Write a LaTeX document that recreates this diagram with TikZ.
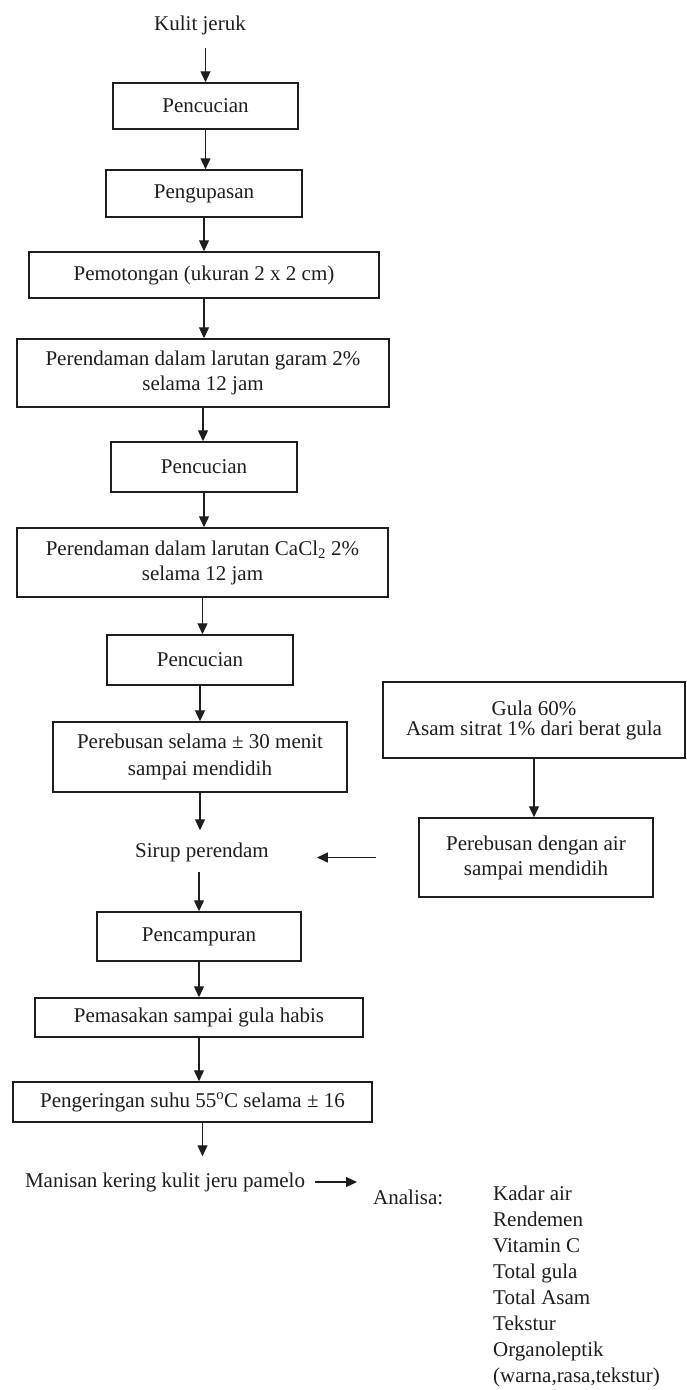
\documentclass[tikz,border=0pt]{standalone}
\usepackage{fontspec}
\setmainfont{Liberation Serif}
\usetikzlibrary{arrows.meta}
\definecolor{ink}{HTML}{1E1E1E}
\tikzset{
  box/.style={draw=ink, line width=1.5pt, inner sep=0pt, align=center, text=ink,
              font=\fontsize{21}{25}\selectfont},
  plain/.style={inner sep=0pt, align=left, text=ink, font=\fontsize{21}{26}\selectfont},
  arr/.style={draw=ink, line width=1.3pt, -{Triangle[length=11pt,width=10pt]}}
}
\begin{document}
\begin{tikzpicture}[x=1pt,y=-1pt]
\useasboundingbox (0,0) rectangle (687,1390);
\fill[white] (0,0) rectangle (687,1390);

\node[plain] (kulit) at (200,25) {Kulit jeruk};
\node[box, minimum width=185pt, minimum height=46pt] (b1) at (205.5,106) {Pencucian};
\node[box, minimum width=196pt, minimum height=47pt] (b2) at (204,193.5) {Pengupasan};
\node[box, minimum width=350pt, minimum height=46pt] (b3) at (204,275) {Pemotongan (ukuran 2 x 2 cm)};
\node[box, minimum width=372pt, minimum height=68pt] (b4) at (203,373) {Perendaman dalam larutan garam 2\%\\selama 12 jam};
\node[box, minimum width=186pt, minimum height=50pt] (b5) at (204,467) {Pencucian};
\node[box, minimum width=371pt, minimum height=69pt] (b6) at (202.5,562.5) {Perendaman dalam larutan CaCl\textsubscript{2} 2\%\\selama 12 jam};
\node[box, minimum width=186pt, minimum height=50pt] (b7) at (200,660) {Pencucian};
\node[box, minimum width=294pt, minimum height=70pt, font=\fontsize{21}{27}\selectfont] (b8) at (200,757) {Perebusan selama ± 30 menit\\sampai mendidih};
\node[box, minimum width=302pt, minimum height=76pt, font=\fontsize{21}{20}\selectfont] (gula) at (534,720) {Gula 60\%\\Asam sitrat 1\% dari berat gula};
\node[box, minimum width=234pt, minimum height=79pt] (air) at (536,857.5) {Perebusan dengan air\\sampai mendidih};
\node[plain] (sirup) at (202,852) {Sirup perendam};
\node[box, minimum width=204pt, minimum height=49pt] (b9) at (199,936.5) {Pencampuran};
\node[box, minimum width=328pt, minimum height=39pt] (b10) at (199,1017.5) {Pemasakan sampai gula habis};
\node[box, minimum width=359pt, minimum height=40pt] (b11) at (192.5,1102) {Pengeringan suhu 55\textsuperscript{o}C selama ± 16};
\node[plain] (man) at (165,1182) {Manisan kering kulit jeru pamelo};
\node[plain, anchor=west] (ana) at (373,1197) {Analisa:};
\node[plain, anchor=north west] (list) at (493,1186) {Kadar air\\Rendemen\\Vitamin C\\Total gula\\Total Asam\\Tekstur\\Organoleptik\\(warna,rasa,tekstur)};

\draw[arr, shorten <=13pt] (b1 |- kulit.south) -- (b1.north);
\draw[arr] (b1) -- (b1 |- b2.north);
\draw[arr] (b2) -- (b2 |- b3.north);
\draw[arr] (b3) -- (b3 |- b4.north);
\draw[arr] (b4) -- (b4 |- b5.north);
\draw[arr] (b5) -- (b5 |- b6.north);
\draw[arr] (b6) -- (b6 |- b7.north);
\draw[arr] (b7) -- (b7 |- b8.north);
\draw[arr, shorten >=12pt] (b8) -- (b8 |- sirup.north);
\draw[arr, shorten <=10pt] (sirup.south -| b9) -- (b9.north);
\draw[arr] (b9) -- (b9 |- b10.north);
\draw[arr] (b10) -- (b10 |- b11.north);
\draw[arr, shorten >=16pt] ([xshift=10pt]b11.south) -- ([xshift=10pt]b11.south |- man.north);
\draw[arr] (gula) -- (gula |- air.north);
\draw[arr, shorten <=42pt, shorten >=48pt] (air.west) -- (air.west -| sirup.east);
\draw[arr, shorten <=10pt, shorten >=16pt] (man.east) -- (man.east -| ana.west);
\end{tikzpicture}
\end{document}
